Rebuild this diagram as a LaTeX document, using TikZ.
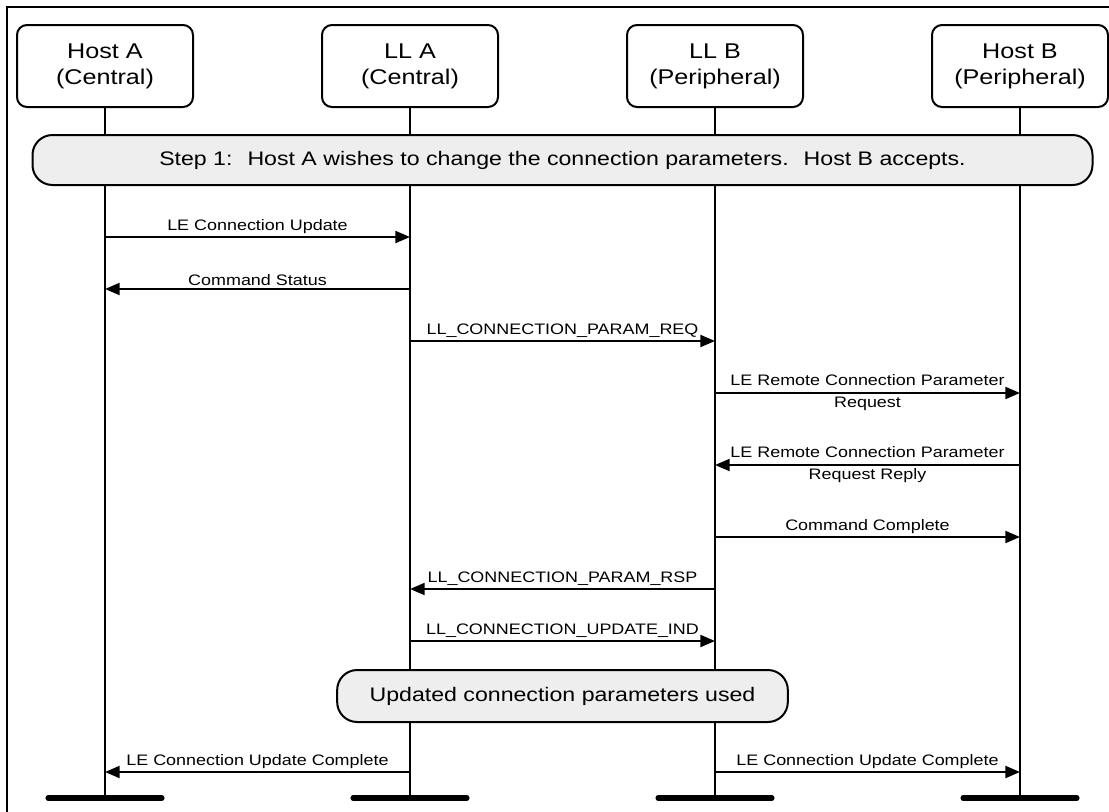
\documentclass[tikz,border=0pt]{standalone}
\usepackage{fontspec}
\setmainfont{Liberation Sans}[FakeStretch=1.18]
\usetikzlibrary{arrows.meta,positioning}

\begin{document}
\begin{tikzpicture}[
  x=0.75pt, y=-0.75pt,
  head/.style={draw, line width=1.5pt, rounded corners=7.5pt, align=center, font=\fontsize{16}{19.5}\selectfont, minimum width=132pt, minimum height=61.5pt, inner sep=0pt},
  band/.style={draw, line width=1.5pt, fill=gray!13, rounded corners=15pt, font=\fontsize{14.7}{18}\selectfont, inner sep=0pt},
  life/.style={line width=1.5pt},
  bar/.style={line width=3.8pt, line cap=round},
  arr/.style={-{Triangle[length=11pt, width=9pt]}, line width=1.5pt},
  lbl/.style={font=\fontsize{11.4}{16.5}\selectfont, align=center, inner sep=1.5pt}
]
\useasboundingbox (0,0) rectangle (1109,811);
\draw[line width=1.5pt] (7,830) -- (7,7) -- (1130,7);

% lifeline heads
\node[head] (hostA) at (105,66) {Host A\\(Central)};
\node[head, right=95.25pt of hostA] (llA) {LL A\\(Central)};
\node[head, right=95.25pt of llA] (llB) {LL B\\(Peripheral)};
\node[head, right=95.25pt of llB] (hostB) {Host B\\(Peripheral)};

% lifelines and end bars
\foreach \n in {hostA,llA,llB,hostB} {
  \coordinate (\n-end) at (\n |- 0,798);
  \draw[life] (\n) -- (\n-end);
  \draw[bar] ([xshift=-42.75pt]\n-end) -- ([xshift=42.75pt]\n-end);
}

\node[band, minimum width=795pt, minimum height=37.5pt] (step) at (562.5,160)
  {Step 1:~ Host A wishes to change the connection parameters.~ Host B accepts.};

% messages
\draw[arr] (hostA |- 0,237) -- node[lbl, above]{LE Connection Update} (llA |- 0,237);
\draw[arr] (llA |- 0,289) -- node[lbl, above]{Command Status} (hostA |- 0,289);
\draw[arr] (llA |- 0,341) -- node[lbl, above]{LL\_CONNECTION\_PARAM\_REQ} (llB |- 0,341);
\draw[arr] (llB |- 0,393) -- node[lbl]{LE Remote Connection Parameter\\Request} (hostB |- 0,393);
\draw[arr] (hostB |- 0,465) -- node[lbl]{LE Remote Connection Parameter\\Request Reply} (llB |- 0,465);
\draw[arr] (llB |- 0,537) -- node[lbl, above]{Command Complete} (hostB |- 0,537);
\draw[arr] (llB |- 0,589) -- node[lbl, above]{LL\_CONNECTION\_PARAM\_RSP} (llA |- 0,589);
\draw[arr] (llA |- 0,641) -- node[lbl, above]{LL\_CONNECTION\_UPDATE\_IND} (llB |- 0,641);

\node[band, minimum width=338pt, minimum height=39pt] (used) at (562.5,696)
  {Updated connection parameters used};

\draw[arr] (llA |- 0,772) -- node[lbl, above]{LE Connection Update Complete} (hostA |- 0,772);
\draw[arr] (llB |- 0,772) -- node[lbl, above]{LE Connection Update Complete} (hostB |- 0,772);
\end{tikzpicture}
\end{document}
